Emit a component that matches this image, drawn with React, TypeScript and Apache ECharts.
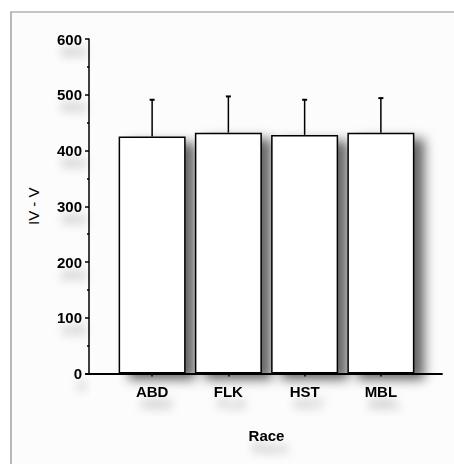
import React, { useEffect, useRef } from "react";
import * as echarts from "echarts";

const categories = ["ABD", "FLK", "HST", "MBL"];
const means = [425, 432, 428, 432];
const upperErrors = [491, 497, 491, 494];
const yTicks = [0, 100, 200, 300, 400, 500, 600];

const FONT = "'Liberation Sans Narrow', 'Liberation Sans', sans-serif";

export default function App() {
  const ref = useRef<HTMLDivElement>(null);
  useEffect(() => {
    const chart = echarts.init(ref.current!, null, { renderer: "svg" });
    const textShadow = {
      textShadowColor: "rgba(0,0,0,0.28)",
      textShadowBlur: 10,
      textShadowOffsetX: 4,
      textShadowOffsetY: 12,
    };
    chart.setOption({
      animation: false,
      backgroundColor: "#ffffff",
      graphic: [
        {
          type: "rect",
          z: 0,
          shape: { x: 11, y: 12, width: 500, height: 500 },
          style: { fill: "#fcfcfc", stroke: "#8c8c8c", lineWidth: 1.2 },
        },
      ],
      grid: [
        { left: 114, right: 35, top: 39, bottom: 90.5 },
        { left: 86, right: 12, top: 39, bottom: 90.5 },
      ],
      xAxis: [
        {
          type: "category",
          gridIndex: 0,
          data: categories,
          axisLine: { show: false },
          axisTick: { show: true, alignWithLabel: true, length: 3, lineStyle: { color: "#000", width: 1.5 } },
          axisLabel: {
            margin: 10,
            color: "#000",
            fontFamily: FONT,
            fontWeight: "bold",
            fontSize: 15,
            ...textShadow,
          },
          name: "Race",
          nameLocation: "middle",
          nameGap: 54,
          nameTextStyle: {
            color: "#000",
            fontFamily: FONT,
            fontWeight: "bold",
            fontSize: 15,
            ...textShadow,
          },
        },
        {
          type: "value",
          gridIndex: 1,
          min: 0,
          max: 1,
          axisLine: { show: true, onZero: false, lineStyle: { color: "#000", width: 1.8 } },
          axisTick: { show: false },
          axisLabel: { show: false },
          splitLine: { show: false },
        },
      ],
      yAxis: [
        {
          type: "value",
          gridIndex: 0,
          min: 0,
          max: 600,
          interval: 100,
          offset: 25,
          axisLine: {
            show: true,
            lineStyle: { color: "#000", width: 1.5 },
          },
          axisTick: { show: true, length: 4, lineStyle: { color: "#000", width: 1.5 } },
          minorTick: { show: true, splitNumber: 2, length: 2, lineStyle: { color: "#000", width: 1.5 } },
          splitLine: { show: false },
          axisLabel: {
            margin: 7,
            color: "#000",
            fontFamily: FONT,
            fontWeight: "bold",
            fontSize: 15,
            formatter: (v: number) => (yTicks.includes(v) ? String(v) : ""),
            ...textShadow,
          },
          name: "IV - V",
          nameLocation: "middle",
          nameGap: 48,
          nameTextStyle: {
            color: "#000",
            fontFamily: FONT,
            fontWeight: "normal",
            fontSize: 15,
          },
        },
        {
          type: "value",
          gridIndex: 1,
          show: false,
          min: 0,
          max: 600,
        },
      ],
      series: [
        {
          type: "bar",
          xAxisIndex: 0,
          yAxisIndex: 0,
          data: means,
          barWidth: 67,
          z: 3,
          itemStyle: {
            color: "#ffffff",
            borderColor: "#000",
            borderWidth: 1.5,
            shadowColor: "rgba(0,0,0,0.6)",
            shadowBlur: 12,
            shadowOffsetX: 10,
            shadowOffsetY: 6,
          },
        },
        {
          type: "custom",
          xAxisIndex: 0,
          yAxisIndex: 0,
          z: 4,
          data: categories.map((_, i) => [i, means[i], upperErrors[i]]),
          renderItem: (params: any, api: any) => {
            const base = api.coord([api.value(0), api.value(1)]);
            const top = api.coord([api.value(0), api.value(2)]);
            const style = { stroke: "#000", lineWidth: 1.5 };
            return {
              type: "group",
              children: [
                { type: "line", shape: { x1: base[0], y1: base[1], x2: top[0], y2: top[1] }, style },
                { type: "line", shape: { x1: top[0] - 2.5, y1: top[1], x2: top[0] + 2.5, y2: top[1] }, style: { stroke: "#000", lineWidth: 2 } },
              ],
            };
          },
        },
      ],
    });
    return () => chart.dispose();
  }, []);
  return <div ref={ref} style={{ position: "fixed", left: 0, top: 0, width: 454, height: 464 }} />;
}
